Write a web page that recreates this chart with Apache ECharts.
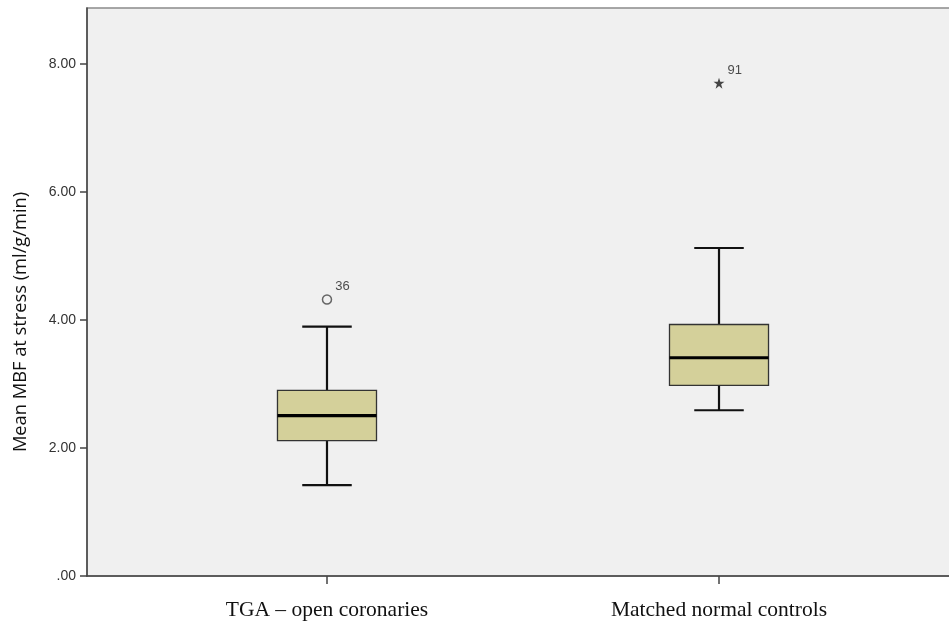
<!DOCTYPE html>
<html>
<head>
<meta charset="utf-8">
<script src="https://cdn.jsdelivr.net/npm/echarts@6/dist/echarts.min.js"></script>
<style>html,body{margin:0;padding:0;background:#fff}#c{width:949px;height:625px}</style>
</head>
<body>
<div id="c"></div>
<script>
const categories = ['TGA \u2013 open coronaries', 'Matched normal controls'];
// [min whisker, Q1, median, Q3, max whisker]
const tgaStats = [1.42, 2.115, 2.505, 2.90, 3.895];
const controlStats = [2.59, 2.98, 3.41, 3.93, 5.125];
const outlierValues = [4.32, 7.70];
const outlierCategory = [1, 2];
const outlierIds = ['36', '91'];
const yTicks = [0, 2, 4, 6, 8];

const chart = echarts.init(document.getElementById('c'));
const boxData = [[1].concat(tgaStats), [2].concat(controlStats)];

const starPath = 'path://M50,0 L61.8,35.4 L100,35.4 L69.1,57.3 L80.9,95.1 L50,72.4 L19.1,95.1 L30.9,57.3 L0,35.4 L38.2,35.4 Z';

chart.setOption({
  animation: false,
  backgroundColor: '#ffffff',
  grid: {left: 87, top: 8, width: 872, height: 568, containLabel: false, outerBoundsMode: 'none',
    show: true, backgroundColor: '#F0F0F0', borderColor: '#8a8a8a', borderWidth: 1.5},
  xAxis: {
    type: 'value', min: 0.3878, max: 2.6122,
    splitLine: {show: false},
    axisLine: {show: true, onZero: false, lineStyle: {color: '#444', width: 1.5}},
    axisTick: {show: true, length: 8, customValues: [1, 2], lineStyle: {color: '#444', width: 1.5}},
    axisLabel: {customValues: [1, 2], margin: 23, color: '#111', fontFamily: 'Liberation Serif', fontSize: 21.5,
      formatter: v => categories[Math.round(v) - 1]}
  },
  yAxis: {
    type: 'value', min: 0, max: 8.875,
    name: 'Mean MBF at stress (ml/g/min)', nameLocation: 'middle', nameGap: 57,
    nameTextStyle: {fontFamily: 'Open Sans', fontSize: 18.3, color: '#111', padding: [0, 60, 0, 0]},
    splitLine: {show: false},
    axisLine: {show: true, lineStyle: {color: '#444', width: 1.5}},
    axisTick: {show: true, length: 7, customValues: yTicks, lineStyle: {color: '#444', width: 1.5}},
    axisLabel: {customValues: yTicks, color: '#333', fontFamily: 'Liberation Sans', fontSize: 14, margin: 11,
      formatter: v => v === 0 ? '.00' : v.toFixed(2)}
  },
  series: [
    {
      type: 'custom',
      data: boxData,
      renderItem: function (params, api) {
        const x = api.value(0);
        const pMin = api.coord([x, api.value(1)]);
        const pQ1 = api.coord([x, api.value(2)]);
        const pMed = api.coord([x, api.value(3)]);
        const pQ3 = api.coord([x, api.value(4)]);
        const pMax = api.coord([x, api.value(5)]);
        const half = api.size([0.1263, 0])[0];
        const capHalf = half * 0.5;
        const cx = pMed[0];
        const lineStyle = {stroke: '#111', lineWidth: 2.2};
        return {
          type: 'group',
          children: [
            {type: 'line', shape: {x1: cx, y1: pMax[1], x2: cx, y2: pQ3[1]}, style: lineStyle},
            {type: 'line', shape: {x1: cx, y1: pQ1[1], x2: cx, y2: pMin[1]}, style: lineStyle},
            {type: 'line', shape: {x1: cx - capHalf, y1: pMax[1], x2: cx + capHalf, y2: pMax[1]}, style: lineStyle},
            {type: 'line', shape: {x1: cx - capHalf, y1: pMin[1], x2: cx + capHalf, y2: pMin[1]}, style: lineStyle},
            {type: 'rect', shape: {x: cx - half, y: pQ3[1], width: 2 * half, height: pQ1[1] - pQ3[1]},
              style: {fill: '#D4D09A', stroke: '#333', lineWidth: 1.3}},
            {type: 'line', shape: {x1: cx - half, y1: pMed[1], x2: cx + half, y2: pMed[1]}, style: {stroke: '#000', lineWidth: 3.2}}
          ]
        };
      }
    },
    {
      type: 'scatter',
      data: [{value: [outlierCategory[0], outlierValues[0]], symbol: 'circle', symbolSize: 9,
              itemStyle: {color: 'transparent', borderColor: '#444', borderWidth: 1.5},
              label: {formatter: outlierIds[0]}},
             {value: [outlierCategory[1], outlierValues[1]], symbol: starPath, symbolSize: 11,
              itemStyle: {color: '#1a1a1a', borderWidth: 0},
              label: {formatter: outlierIds[1]}}],
      label: {show: true, position: 'right', offset: [-2, -13], color: '#222', fontFamily: 'Liberation Sans', fontSize: 13}
    }
  ]
});
</script>
</body>
</html>
